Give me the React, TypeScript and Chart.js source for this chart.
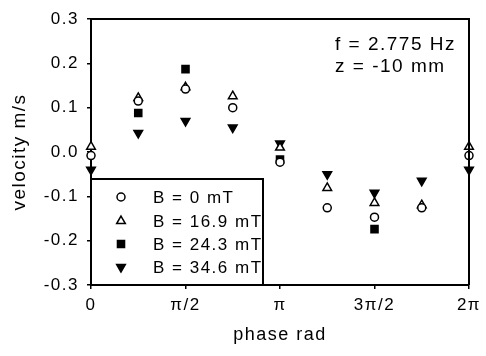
import React, { useEffect, useRef } from 'react';
import { Chart, registerables } from 'chart.js';
import { drawPoint } from 'chart.js/helpers';

Chart.register(...registerables);

// phase positions in multiples of π
const phase = [0, 0.25, 0.5, 0.75, 1, 1.25, 1.5, 1.75, 2];
const xTickLabels = ['0', 'π/2', 'π', '3π/2', '2π'];
const seriesLabels = ['B = 0 mT', 'B = 16.9 mT', 'B = 24.3 mT', 'B = 34.6 mT'];
const vB0 = [-0.008, 0.115, 0.142, 0.1, -0.023, -0.126, -0.147, -0.126, -0.008];
const vB169 = [0.012, 0.122, 0.146, 0.126, 0.01, -0.081, -0.115, -0.12, 0.012];
const vB243 = [null, 0.088, 0.187, null, -0.017, null, -0.174, null, null];
const vB346 = [-0.04, 0.043, 0.07, 0.055, 0.019, -0.05, -0.092, -0.065, -0.04];
const annotationLines = ['f = 2.775 Hz', 'z = -10 mm'];

const FONT = "'Liberation Sans', Arial, sans-serif";

const styles = [
  { pointStyle: 'circle', radius: 4, bg: '#fff', rotation: 0 },
  { pointStyle: 'triangle', radius: 5, bg: '#fff', rotation: 0 },
  { pointStyle: 'rect', radius: 5, bg: '#000', rotation: 0 },
  { pointStyle: 'triangle', radius: 5, bg: '#000', rotation: 180 },
];
const seriesValues = [vB0, vB169, vB243, vB346];

const chartPlugin = {
  id: 'customDecor',
  beforeDraw(chart: any) {
    chart.ctx.letterSpacing = '1.5px';
  },
  afterDraw(chart: any) {
    const ctx = chart.ctx;
    const a = chart.chartArea;
    ctx.save();
    ctx.letterSpacing = '1.5px';
    // top & right frame
    ctx.strokeStyle = '#000';
    ctx.lineWidth = 2;
    ctx.beginPath();
    ctx.moveTo(a.left, a.top);
    ctx.lineTo(a.right, a.top);
    ctx.lineTo(a.right, a.bottom);
    ctx.stroke();

    // annotation
    ctx.fillStyle = '#000';
    ctx.font = `19px ${FONT}`;
    ctx.textAlign = 'left';
    ctx.textBaseline = 'middle';
    ctx.fillText(annotationLines[0], a.left + 244, a.top + 26);
    ctx.fillText(annotationLines[1], a.left + 244, a.top + 48);

    // legend box
    const bx = a.left;
    const by = a.top + 160;
    const bw = 172;
    const bh = a.bottom - by;
    ctx.fillStyle = '#fff';
    ctx.fillRect(bx, by, bw, bh);
    ctx.lineWidth = 2;
    ctx.strokeRect(bx, by, bw, bh);
    const rows = [18, 42, 65, 88];
    seriesLabels.forEach((lab, i) => {
      const st = styles[i];
      const y = by + rows[i];
      ctx.fillStyle = st.bg;
      ctx.strokeStyle = '#000';
      ctx.lineWidth = 1.5;
      drawPoint(ctx, {
        pointStyle: st.pointStyle,
        radius: st.radius,
        rotation: st.rotation,
        borderWidth: 1.5,
      } as any, bx + 30, y);
      ctx.fillStyle = '#000';
      ctx.font = `17px ${FONT}`;
      ctx.textAlign = 'left';
      ctx.textBaseline = 'middle';
      ctx.fillText(lab, bx + 62, y + 1);
    });
    ctx.restore();
  },
};

export default function App() {
  const ref = useRef<HTMLCanvasElement>(null);
  useEffect(() => {
    if (!ref.current) return;
    const datasets = seriesValues.map((vals, i) => ({
      label: seriesLabels[i],
      data: phase.map((x, j) => ({ x, y: vals[j] })).filter((p) => p.y !== null),
      showLine: false,
      pointStyle: styles[i].pointStyle,
      pointRadius: styles[i].radius,
      pointRotation: styles[i].rotation,
      pointBackgroundColor: styles[i].bg,
      pointBorderColor: '#000',
      pointBorderWidth: 1.5,
      clip: false as any,
    }));
    const chart = new Chart(ref.current, {
      type: 'scatter',
      data: { datasets },
      options: {
        animation: false,
        responsive: false,
        layout: { padding: { top: 19, right: 17, left: 0, bottom: 0 } },
        plugins: { legend: { display: false }, tooltip: { enabled: false } },
        scales: {
          x: {
            type: 'linear',
            min: 0,
            max: 2,
            border: { color: '#000', width: 2 },
            grid: { drawOnChartArea: false, drawTicks: true, tickLength: 4, color: '#000', lineWidth: 1.5 },
            ticks: {
              stepSize: 0.5,
              color: '#000',
              font: { family: FONT, size: 17 },
              padding: 6,
              maxRotation: 0,
              autoSkip: false,
              callback: (_v: any, i: number) => xTickLabels[i],
            },
            title: {
              display: true,
              text: 'phase rad',
              color: '#000',
              font: { family: FONT, size: 18 },
              padding: { top: 0, bottom: 10 },
            },
            afterFit: (s: any) => {
              s.height = 71;
            },
          },
          y: {
            type: 'linear',
            min: -0.3,
            max: 0.3,
            border: { color: '#000', width: 2 },
            grid: { drawOnChartArea: false, drawTicks: true, tickLength: 4, color: '#000', lineWidth: 1.5 },
            ticks: {
              stepSize: 0.1,
              color: '#000',
              font: { family: FONT, size: 17 },
              padding: 8,
              callback: (v: any) => (Math.abs(v) < 1e-9 ? 0 : Number(v)).toFixed(1),
            },
            title: {
              display: true,
              text: 'velocity m/s',
              color: '#000',
              font: { family: FONT, size: 19 },
              padding: { top: 8, bottom: 0 },
            },
            afterFit: (s: any) => {
              s.width = 91;
            },
          },
        },
      },
      plugins: [chartPlugin],
    });
    return () => chart.destroy();
  }, []);
  return (
    <div style={{ position: 'fixed', left: 0, top: 0, width: 486, height: 356, background: '#fff' }}>
      <canvas ref={ref} width={486} height={356} style={{ display: 'block' }} />
    </div>
  );
}
